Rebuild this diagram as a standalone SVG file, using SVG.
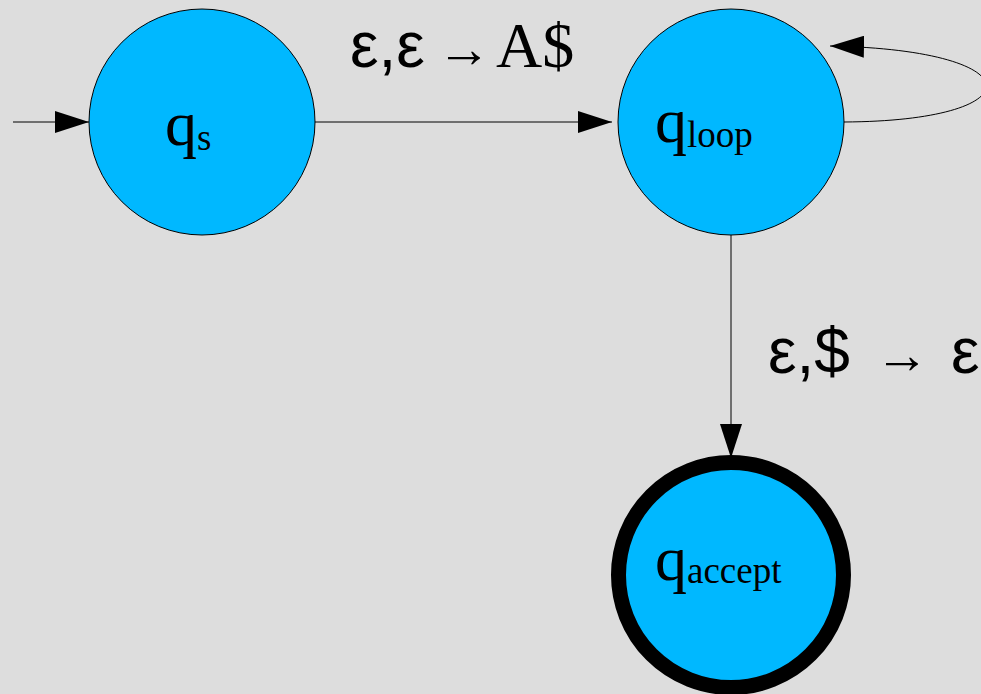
<svg xmlns="http://www.w3.org/2000/svg" width="981" height="694" viewBox="0 0 981 694">
<defs>
<style>
.st{fill:#00b8ff;stroke:#000;stroke-width:1}
.acc{fill:#00b8ff;stroke:#000;stroke-width:15}
.q{font-family:"Liberation Serif",serif;font-size:64px;fill:#000}
.sub{font-size:37px}
.edge{fill:none;stroke:#000;stroke-width:1}
.lbl{font-family:"Liberation Sans",sans-serif;font-size:64px;fill:#000}
.arr{font-family:"Liberation Serif",serif;font-size:54px}
.ser{font-family:"Liberation Serif",serif}
</style>
<marker id="ah" markerWidth="34" markerHeight="22" refX="34" refY="11" orient="auto" markerUnits="userSpaceOnUse">
<path d="M0,0 L34,11 L0,22 Z" fill="#000"/>
</marker>
</defs>
<rect width="981" height="694" fill="#dddddd"/>
<g id="connectors">
<line class="edge" x1="13" y1="122" x2="89" y2="122" marker-end="url(#ah)"/>
<line class="edge" x1="315" y1="122" x2="612" y2="122" marker-end="url(#ah)"/>
<path class="edge" d="M844,122 C1036,121 1036,50 830,46" marker-end="url(#ah)"/>
<line class="edge" x1="731" y1="235" x2="731" y2="458" marker-end="url(#ah)"/>
<text class="lbl" y="67"><tspan x="350">ε,ε</tspan><tspan class="arr" x="437">→</tspan><tspan class="ser" x="496">A$</tspan></text>
<text class="lbl" y="373"><tspan x="768">ε,$</tspan><tspan class="arr" x="875">→</tspan><tspan x="951">ε</tspan></text>
</g>
<g id="qs">
<circle class="st" cx="202" cy="122" r="113"/>
<text class="q" x="165" y="145">q<tspan class="sub" dy="5">s</tspan></text>
</g>
<g id="qloop">
<circle class="st" cx="731" cy="122" r="113"/>
<text class="q" x="655" y="142">q<tspan class="sub" dy="5">loop</tspan></text>
</g>
<g id="qaccept">
<circle class="acc" cx="731" cy="575" r="112.5"/>
<text class="q" x="655" y="580">q<tspan class="sub" dy="3">accept</tspan></text>
</g>
</svg>
